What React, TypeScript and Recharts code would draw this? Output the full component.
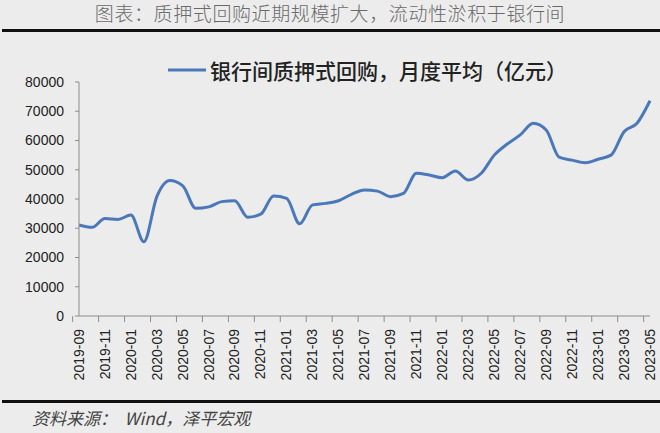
import React from 'react'
import { LineChart, Line, XAxis, YAxis, Legend } from 'recharts'

// month labels on the category axis
const MONTHS = [
  '2019-09', '2019-10', '2019-11', '2019-12',
  '2020-01', '2020-02', '2020-03', '2020-04', '2020-05', '2020-06', '2020-07', '2020-08', '2020-09', '2020-10', '2020-11', '2020-12',
  '2021-01', '2021-02', '2021-03', '2021-04', '2021-05', '2021-06', '2021-07', '2021-08', '2021-09', '2021-10', '2021-11', '2021-12',
  '2022-01', '2022-02', '2022-03', '2022-04', '2022-05', '2022-06', '2022-07', '2022-08', '2022-09', '2022-10', '2022-11', '2022-12',
  '2023-01', '2023-02', '2023-03', '2023-04', '2023-05'
]

// 银行间质押式回购 monthly average, 亿元
const REPO = [
  31100, 30300, 33300, 33000,
  34500, 25400, 40800, 46300, 44500, 36800, 37300, 39100, 39400, 33800, 34800, 41000,
  40200, 31500, 38000, 38500, 39400, 41600, 43100, 42700, 40800, 41900, 48800, 48200,
  47300, 49600, 46500, 48800, 55000, 58800, 61900, 65900, 63600, 54300, 53300, 52400,
  53600, 55000, 63000, 65900, 73600
]

const Y_TICKS = [0, 10000, 20000, 30000, 40000, 50000, 60000, 70000, 80000]

const SERIES_NAME = '银行间质押式回购，月度平均（亿元）'
const TITLE = '图表：质押式回购近期规模扩大，流动性淤积于银行间'
const SOURCE = '资料来源：  Wind，泽平宏观'

const LINE_COLOR = '#4A78B8'
const BG = '#ECECEC'

const W = 660
const H = 433
const MARGIN = { top: 58, right: 10, bottom: 47, left: 19 }
const Y_WIDTH = 60
const X_HEIGHT = 70
const BAND = (W - MARGIN.left - Y_WIDTH - MARGIN.right) / MONTHS.length

const data = MONTHS.map((m, i) => ({ month: m, repo: REPO[i] }))

// x tick: small mark at the left edge of the band, rotated label
const MonthTick = ({ x, y, payload }: any) => {
  const tx = x - BAND / 2
  return (
    <g>
      <line x1={tx} x2={tx} y1={y - 8} y2={y - 2} stroke="#8C8C8C" />
      <text
        x={x}
        y={y + 5}
        transform={`rotate(-90, ${x}, ${y + 5})`}
        textAnchor="end"
        dy="0.34em"
        fill="#222"
        fontSize={14}
        fontFamily="'Liberation Sans', Arial, sans-serif"
      >
        {payload.value}
      </text>
    </g>
  )
}

// legend sits a bit right of centre in the original
const LegendContent = () => (
  <div style={{ display: 'flex', alignItems: 'center', height: 24, paddingLeft: 168 }}>
    <svg width={38} height={6} style={{ marginRight: 4 }}>
      <line x1={0} x2={38} y1={3} y2={3} stroke={LINE_COLOR} strokeWidth={3} />
    </svg>
    <span style={{ fontSize: 21, fontWeight: 500, color: '#222', fontFamily: "'Noto Sans CJK SC', sans-serif", whiteSpace: 'nowrap' }}>
      {SERIES_NAME}
    </span>
  </div>
)

export default function App() {
  return (
    <div style={{ position: 'absolute', top: 0, left: 0, width: W, height: H, background: BG, overflow: 'hidden' }}>
      <div style={{
        position: 'absolute', top: 2, left: 0, width: W, textAlign: 'center',
        fontSize: 19, letterSpacing: 0.6, color: '#6A6A6A', fontWeight: 300,
        fontFamily: "'Noto Sans CJK SC', sans-serif", lineHeight: '22px'
      }}>
        {TITLE}
      </div>
      <div style={{ position: 'absolute', top: 29, left: 2, width: W, height: 3, background: '#111' }} />

      <LineChart width={W} height={H} data={data} margin={MARGIN} style={{ position: 'absolute', top: 0, left: 0 }}>
        <Legend verticalAlign="top" align="left" height={24} wrapperStyle={{ left: 0, width: W }} content={<LegendContent />} />
        <XAxis
          dataKey="month"
          interval={1}
          height={X_HEIGHT}
          tickLine={false}
          axisLine={{ stroke: '#8C8C8C' }}
          tick={<MonthTick />}
        />
        <YAxis
          domain={[0, 80000]}
          ticks={Y_TICKS}
          width={Y_WIDTH}
          tickSize={4}
          tickMargin={11}
          axisLine={{ stroke: '#8C8C8C' }}
          tickLine={{ stroke: '#8C8C8C' }}
          tick={{ fill: '#222', fontSize: 14, fontFamily: "'Liberation Sans', Arial, sans-serif" }}
        />
        <Line
          type="monotone"
          dataKey="repo"
          name={SERIES_NAME}
          stroke={LINE_COLOR}
          strokeWidth={3}
          dot={false}
          isAnimationActive={false}
        />
      </LineChart>

      <div style={{ position: 'absolute', top: 400, left: 2, width: W, height: 3, background: '#111' }} />
      <div style={{
        position: 'absolute', top: 406, left: 32, fontSize: 17, fontStyle: 'italic', color: '#444',
        fontFamily: "'Noto Sans CJK SC', sans-serif", lineHeight: '24px', whiteSpace: 'pre'
      }}>
        {SOURCE}
      </div>
    </div>
  )
}
